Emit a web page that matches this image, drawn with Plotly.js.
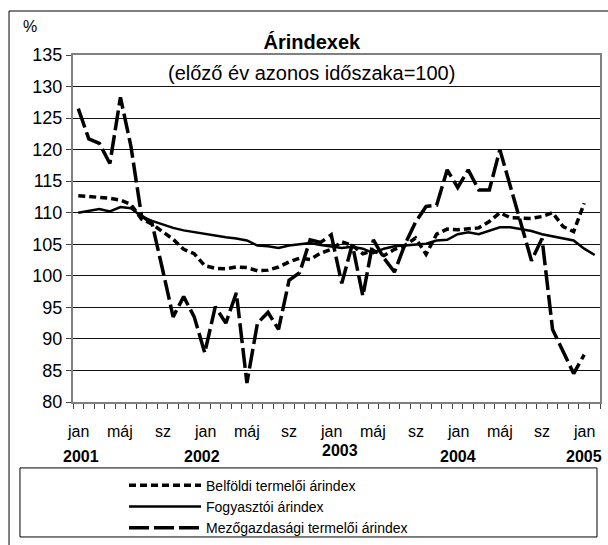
<!DOCTYPE html>
<html>
<head>
<meta charset="utf-8">
<script src="https://cdn.plot.ly/plotly-3.0.1.min.js"></script>
<style>
body { margin: 0; background: #fff; }
#plot { width: 608px; height: 545px; }
</style>
</head>
<body>
<div id="plot"></div>
<script>
// havi adatok: 2001 jan - 2005 feb
var honapCimkek = ['jan','máj','sz','jan','máj','sz','jan','máj','sz','jan','máj','sz','jan'];
var evek = ['2001','2002','2003','2004','2005'];
var evHely = [0.3, 11.7, 24.8, 36, 48];

var belfoldi = [112.7,112.6,112.5,112.3,112.0,111.3,109.0,108.2,107.0,105.8,104.2,103.5,
  101.6,101.2,101.1,101.4,101.3,100.8,100.9,101.4,102.2,102.8,102.6,103.6,
  104.2,105.4,104.8,103.5,104.0,103.2,104.2,104.8,106.0,103.4,106.6,107.4,
  107.3,107.4,107.6,108.6,110.0,109.2,109.1,109.1,109.4,110.0,107.8,107.0,
  111.5,null];
var fogyasztoi = [110.0,110.3,110.6,110.2,110.9,110.7,109.4,108.7,108.1,107.6,107.2,106.9,
  106.6,106.4,106.1,105.9,105.6,104.8,104.7,104.4,104.8,105.0,105.2,104.9,
  104.6,104.4,104.6,104.3,103.6,104.3,104.7,104.8,104.9,105.1,105.6,105.7,
  106.6,106.9,106.6,107.1,107.7,107.7,107.4,107.1,106.6,106.3,105.9,105.6,
  104.3,103.3];
var mezogazdasagi = [126.5,121.7,121.0,117.8,128.3,120.5,109.5,108.3,101.0,93.5,96.7,93.5,
  87.8,95.1,92.5,97.3,83.0,92.5,94.2,91.5,99.3,100.5,105.7,105.3,
  106.5,98.8,105.0,96.8,105.7,102.8,100.6,105.0,108.5,111.0,111.2,116.8,
  114.0,116.8,113.6,113.6,120.0,114.3,108.3,102.4,105.9,91.5,88.0,84.5,
  87.5,null];

var x = fogyasztoi.map(function(v, i){ return i; });
var hatarok = [];
for (var i = 0; i <= x.length; i++) hatarok.push(i - 0.5);

var font = 'Liberation Sans, Arial, sans-serif';

var trace1 = {
  x: x, y: belfoldi, name: 'Belföldi termelői árindex', type: 'scatter', mode: 'lines',
  line: {color: '#000', width: 3.5, dash: '7px,4px'}
};
var trace2 = {
  x: x, y: fogyasztoi, name: 'Fogyasztói árindex', type: 'scatter', mode: 'lines',
  line: {color: '#000', width: 2.5}
};
var trace3 = {
  x: x, y: mezogazdasagi, name: 'Mezőgazdasági termelői árindex', type: 'scatter', mode: 'lines',
  line: {color: '#000', width: 3.5, dash: '20px,5px'}
};

var annotations = [];
honapCimkek.forEach(function(t, k){
  annotations.push({x: k * 4, y: -0.085, xref: 'x', yref: 'paper', text: t, showarrow: false,
    yanchor: 'middle', font: {size: 16, color: '#000'}});
});
evek.forEach(function(t, k){
  annotations.push({x: evHely[k], y: t === '2003' ? -0.14 : -0.157, xref: 'x', yref: 'paper',
    text: '<b>' + t + '</b>', showarrow: false, yanchor: 'middle', font: {size: 16, color: '#000'}});
});
annotations.push({x: -0.099, y: 1.081, xref: 'paper', yref: 'paper', text: '%', showarrow: false,
  yanchor: 'middle', font: {size: 16, color: '#000'}});
annotations.push({x: 0.4535, y: 0.948, xref: 'paper', yref: 'paper', text: '(előző év azonos időszaka=100)',
  showarrow: false, yanchor: 'middle', font: {size: 20, color: '#000'}});

var layout = {
  width: 608, height: 545,
  margin: {l: 73, r: 8, t: 55, b: 143, autoexpand: false},
  paper_bgcolor: '#fff', plot_bgcolor: '#fff',
  font: {family: font, color: '#000'},
  title: {text: '<b>Árindexek</b>', xref: 'container', yref: 'container', x: 0.513, y: 0.923,
    xanchor: 'center', yanchor: 'middle', font: {size: 20, color: '#000'}},
  xaxis: {range: [-0.5, 49.5], tickvals: hatarok, ticktext: hatarok.map(function(){ return ''; }),
    ticks: 'outside', ticklen: 5, tickcolor: '#444', showgrid: false, zeroline: false,
    showline: true, mirror: true, linecolor: '#808080', linewidth: 2},
  yaxis: {range: [80, 135], dtick: 5, tick0: 80, ticks: 'outside', ticklen: 5, tickcolor: '#444',
    showgrid: true, gridcolor: '#111', gridwidth: 1, zeroline: false,
    showline: true, mirror: true, linecolor: '#808080', linewidth: 2,
    tickfont: {size: 18, color: '#000'}},
  showlegend: true,
  legend: {x: 0.0968, y: -0.195, xanchor: 'left', yanchor: 'top', font: {size: 14, color: '#000'},
    bgcolor: 'rgba(0,0,0,0)', borderwidth: 0, itemwidth: 72, tracegroupgap: 0},
  annotations: annotations,
  shapes: [
    {type: 'rect', xref: 'paper', yref: 'paper', x0: -0.1006, x1: 0.9943, y0: -0.389, y1: -0.19,
      line: {color: '#000', width: 1}},
    {type: 'rect', xref: 'paper', yref: 'paper', x0: -0.1214, x1: 1.04, y0: -0.455, y1: 1.1268,
      line: {color: '#000', width: 1}}
  ]
};

Plotly.newPlot('plot', [trace1, trace2, trace3], layout, {displayModeBar: false, staticPlot: true});
</script>
</body>
</html>
